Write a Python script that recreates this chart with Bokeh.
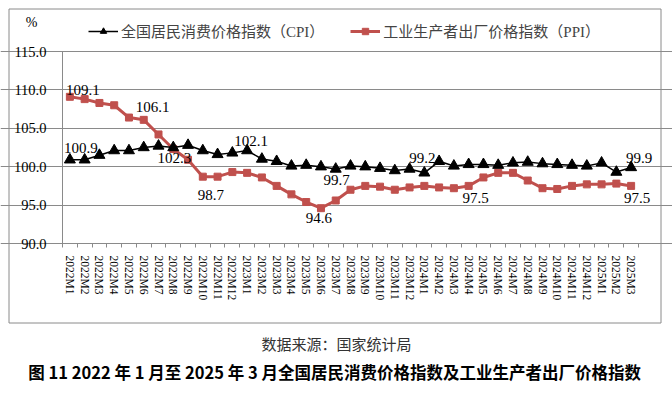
from bokeh.plotting import figure
from bokeh.models import Range1d, FixedTicker, Legend, LegendItem, Label, BoxAnnotation
from bokeh.embed import file_html
from bokeh.resources import INLINE

months = ["2022M1", "2022M2", "2022M3", "2022M4", "2022M5", "2022M6", "2022M7", "2022M8",
          "2022M9", "2022M10", "2022M11", "2022M12",
          "2023M1", "2023M2", "2023M3", "2023M4", "2023M5", "2023M6", "2023M7", "2023M8",
          "2023M9", "2023M10", "2023M11", "2023M12",
          "2024M1", "2024M2", "2024M3", "2024M4", "2024M5", "2024M6", "2024M7", "2024M8",
          "2024M9", "2024M10", "2024M11", "2024M12",
          "2025M1", "2025M2", "2025M3"]
cpi = [100.9, 100.9, 101.5, 102.1, 102.1, 102.5, 102.7, 102.5, 102.8, 102.1, 101.6, 101.8,
       102.1, 101.0, 100.7, 100.1, 100.2, 100.0, 99.7, 100.1, 100.0, 99.8, 99.5, 99.7,
       99.2, 100.7, 100.1, 100.3, 100.3, 100.2, 100.5, 100.6, 100.4, 100.3, 100.2, 100.1,
       100.5, 99.3, 99.9]
ppi = [109.1, 108.8, 108.3, 108.0, 106.4, 106.1, 104.2, 102.3, 100.9, 98.7, 98.7, 99.3,
       99.2, 98.6, 97.5, 96.4, 95.4, 94.6, 95.6, 97.0, 97.5, 97.4, 97.0, 97.3,
       97.5, 97.3, 97.2, 97.5, 98.6, 99.2, 99.2, 98.2, 97.2, 97.1, 97.5, 97.7,
       97.7, 97.8, 97.5]
y_ticks = [90, 95, 100, 105, 110, 115]
cpi_name = "全国居民消费价格指数（CPI）"
ppi_name = "工业生产者出厂价格指数（PPI）"
source_text = "数据来源：国家统计局"
caption_text = "图 11  2022 年 1 月至 2025 年 3 月全国居民消费价格指数及工业生产者出厂价格指数"

SERIF = "'Liberation Serif', 'Noto Sans CJK SC'"
CJK = "'Noto Sans CJK SC'"
GRID = "#8a8a8a"
RED = "#C0504D"

# ---- layout (pixels on the page) ----
W, H = 672, 398
PLOT_L, PLOT_R, PLOT_T, PLOT_B = 62, 638, 51, 243
n = len(months)
y_lo, y_hi = y_ticks[0], y_ticks[-1]
SX = (PLOT_R - PLOT_L) / n
SY = (PLOT_B - PLOT_T) / (y_hi - y_lo)
X0 = -0.5 - PLOT_L / SX
Y1 = y_hi + PLOT_T / SY


def px(x):
    return X0 + x / SX


def py(y):
    return Y1 - y / SY


xs = list(range(n))

p = figure(width=W, height=H, output_backend="svg", toolbar_location=None,
           x_range=Range1d(px(0), px(W)), y_range=Range1d(py(H), py(0)),
           min_border=0)
p.outline_line_color = None
p.background_fill_color = "white"
p.border_fill_color = "white"

# axes fixed at the plot-area edges
p.xaxis.fixed_location = y_lo
p.xaxis.bounds = (-0.5, n - 0.5)
p.xaxis.ticker = FixedTicker(ticks=xs, minor_ticks=[i - 0.5 for i in range(n + 1)])
p.xaxis.major_label_overrides = {i: m for i, m in enumerate(months)}
p.xaxis.major_label_orientation = "vertical"
p.xaxis.major_tick_line_color = None
p.xaxis.minor_tick_line_color = GRID
p.xaxis.minor_tick_out = 4
p.xaxis.minor_tick_in = 0
p.xaxis.axis_line_color = GRID
p.xaxis.major_label_standoff = 6
p.xaxis.major_label_text_font = "Liberation Serif"
p.xaxis.major_label_text_font_size = "11.5px"
p.xaxis.major_label_text_color = "black"

p.yaxis.fixed_location = -0.5
p.yaxis.bounds = (y_lo, y_hi)
p.yaxis.ticker = FixedTicker(ticks=y_ticks)
p.yaxis.major_label_overrides = {t: f"{t:.1f}" for t in y_ticks}
p.yaxis.major_tick_line_color = GRID
p.yaxis.major_tick_out = 4
p.yaxis.major_tick_in = 0
p.yaxis.minor_tick_line_color = None
p.yaxis.axis_line_color = GRID
p.yaxis.major_label_standoff = 12
p.yaxis.major_label_text_font = "Liberation Serif"
p.yaxis.major_label_text_font_size = "14.5px"
p.yaxis.major_label_text_color = "black"

p.xgrid.grid_line_color = None
p.ygrid.ticker = FixedTicker(ticks=y_ticks)
p.ygrid.bounds = (-0.5, n - 0.5)
p.ygrid.grid_line_color = GRID
p.ygrid.grid_line_width = 1

# series
l_ppi = p.line(xs, ppi, line_color=RED, line_width=3)
s_ppi = p.scatter(xs, ppi, marker="square", size=7, fill_color=RED, line_color=RED)
l_cpi = p.line(xs, cpi, line_color="black", line_width=1.5)
s_cpi = p.scatter(xs, cpi, marker="triangle", size=11, fill_color="black", line_color="black")

legend = Legend(items=[LegendItem(label=cpi_name, renderers=[l_cpi, s_cpi]),
                       LegendItem(label=ppi_name, renderers=[l_ppi, s_ppi])],
                orientation="horizontal", location=(88, H - 41),
                label_text_font=SERIF, label_text_font_size="15px",
                glyph_width=30, glyph_height=16, label_standoff=3, spacing=26,
                padding=0, margin=0, background_fill_alpha=0, border_line_color=None)
p.add_layout(legend, "center")

# data labels: (series, index, align, baseline, dx, dy) - dy in screen pixels (down positive)
label_specs = [
    (ppi, 0, "left", "bottom", -4, -2),
    (ppi, 5, "center", "bottom", 9, -8),
    (ppi, 7, "center", "top", 1, 4),
    (ppi, 9, "center", "top", 8, 13),
    (ppi, 17, "center", "top", -2, 5),
    (ppi, 27, "center", "top", 7, 7),
    (ppi, 38, "center", "top", 6, 7),
    (cpi, 0, "left", "bottom", -6, -7),
    (cpi, 12, "center", "bottom", 4, -5),
    (cpi, 18, "center", "top", 1, 6),
    (cpi, 24, "center", "bottom", -2, -10),
    (cpi, 38, "center", "bottom", 8, -4),
]
for series, i, al, bl, dx, dy in label_specs:
    p.add_layout(Label(x=xs[i], y=series[i], text=f"{series[i]:.1f}", text_align=al,
                       text_baseline=bl, x_offset=dx, y_offset=-dy,
                       text_font="Liberation Serif", text_font_size="15px",
                       text_color="black"))

# unit label
p.add_layout(Label(x=px(31), y=py(22), text="%", text_align="center",
                   text_baseline="middle", text_font=SERIF, text_font_size="14px",
                   text_color="black"))

# captions below the chart box
p.add_layout(Label(x=px(336), y=py(343), text=source_text, text_align="center",
                   text_baseline="middle", text_font=CJK, text_font_size="15px",
                   text_color="#333333"))
p.add_layout(Label(x=px(336), y=py(371), text=caption_text, text_align="center",
                   text_baseline="middle", text_font=CJK, text_font_size="16.5px",
                   text_font_style="bold", text_color="black"))

# chart border box
p.add_layout(BoxAnnotation(left=px(8.5), right=px(660.5), top=py(8.5), bottom=py(322.5),
                           fill_alpha=0, fill_color=None, line_color=GRID, line_width=1,
                           line_alpha=1, level="underlay"))

open("out.html", "w").write(file_html(p, INLINE))
